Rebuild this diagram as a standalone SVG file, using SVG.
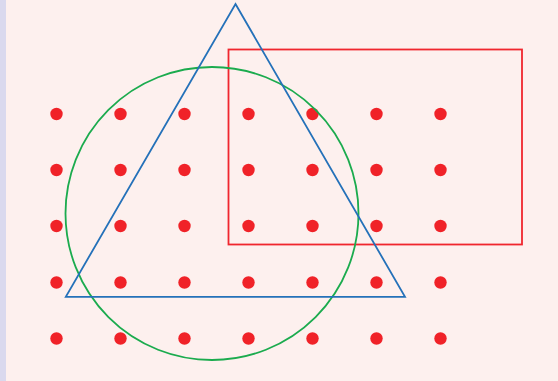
<svg xmlns="http://www.w3.org/2000/svg" width="558" height="381" viewBox="0 0 558 381">
<style>
.dot{fill:#f02228}
.shape{fill:none;stroke-width:1.8}
</style>
<rect x="0" y="0" width="558" height="381" fill="#fdf0ee"/>
<rect x="0" y="0" width="6" height="381" fill="#dad9ee"/>
<g id="dots">
<g transform="translate(56.5,114)"><circle class="dot" cx="0" cy="0" r="6.2"/><circle class="dot" cx="64" cy="0" r="6.2"/><circle class="dot" cx="128" cy="0" r="6.2"/><circle class="dot" cx="192" cy="0" r="6.2"/><circle class="dot" cx="256" cy="0" r="6.2"/><circle class="dot" cx="320" cy="0" r="6.2"/><circle class="dot" cx="384" cy="0" r="6.2"/></g>
<g transform="translate(56.5,170)"><circle class="dot" cx="0" cy="0" r="6.2"/><circle class="dot" cx="64" cy="0" r="6.2"/><circle class="dot" cx="128" cy="0" r="6.2"/><circle class="dot" cx="192" cy="0" r="6.2"/><circle class="dot" cx="256" cy="0" r="6.2"/><circle class="dot" cx="320" cy="0" r="6.2"/><circle class="dot" cx="384" cy="0" r="6.2"/></g>
<g transform="translate(56.5,226)"><circle class="dot" cx="0" cy="0" r="6.2"/><circle class="dot" cx="64" cy="0" r="6.2"/><circle class="dot" cx="128" cy="0" r="6.2"/><circle class="dot" cx="192" cy="0" r="6.2"/><circle class="dot" cx="256" cy="0" r="6.2"/><circle class="dot" cx="320" cy="0" r="6.2"/><circle class="dot" cx="384" cy="0" r="6.2"/></g>
<g transform="translate(56.5,282.5)"><circle class="dot" cx="0" cy="0" r="6.2"/><circle class="dot" cx="64" cy="0" r="6.2"/><circle class="dot" cx="128" cy="0" r="6.2"/><circle class="dot" cx="192" cy="0" r="6.2"/><circle class="dot" cx="256" cy="0" r="6.2"/><circle class="dot" cx="320" cy="0" r="6.2"/><circle class="dot" cx="384" cy="0" r="6.2"/></g>
<g transform="translate(56.5,338.5)"><circle class="dot" cx="0" cy="0" r="6.2"/><circle class="dot" cx="64" cy="0" r="6.2"/><circle class="dot" cx="128" cy="0" r="6.2"/><circle class="dot" cx="192" cy="0" r="6.2"/><circle class="dot" cx="256" cy="0" r="6.2"/><circle class="dot" cx="320" cy="0" r="6.2"/><circle class="dot" cx="384" cy="0" r="6.2"/></g>
</g>
<g id="rectangle"><rect class="shape" x="228.5" y="49.5" width="293.5" height="195" stroke="#f0262e"/></g>
<g id="circle"><circle class="shape" cx="212" cy="213.5" r="146.5" stroke="#1bab4e"/></g>
<g id="triangle"><polygon class="shape" points="235.5,4 405,296.8 65.8,296.8" stroke="#2471b9" stroke-linejoin="miter"/></g>
</svg>
